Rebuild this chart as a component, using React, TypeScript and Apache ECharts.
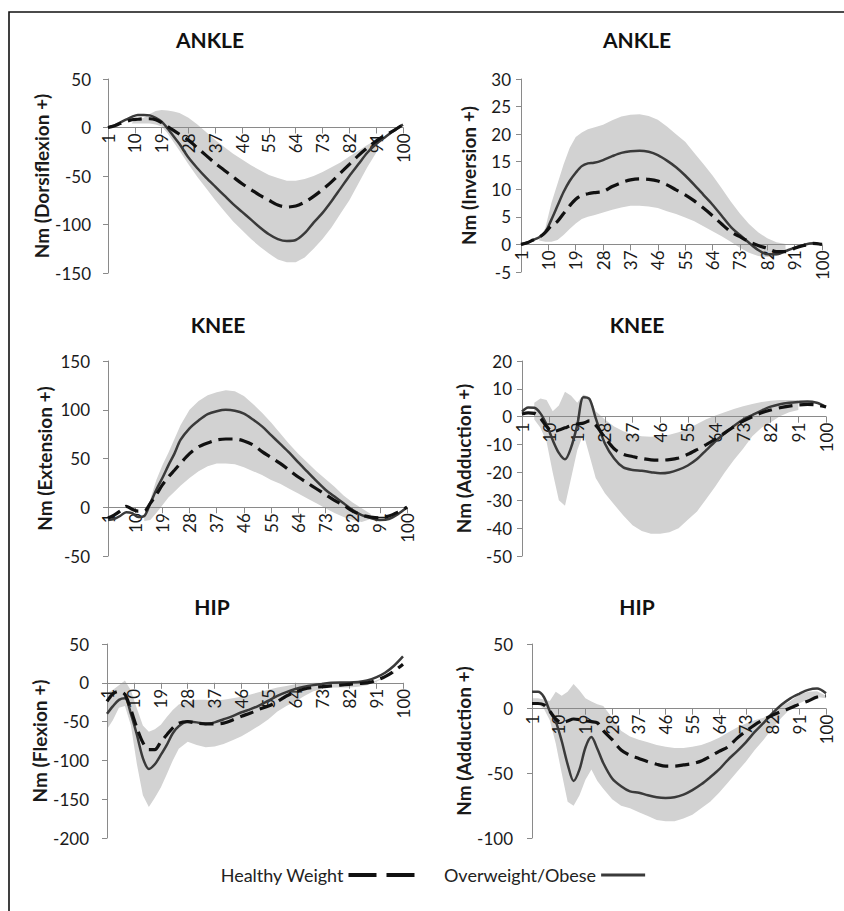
import React, { useEffect, useRef } from "react";
import * as echarts from "echarts";

// Gait cycle (%) sample points
const XS = [1, 3, 5, 7, 9, 11, 13, 15, 17, 19, 21, 23, 25, 28, 31, 34, 37, 40, 43, 46, 49, 52, 55, 58, 61, 64, 67, 70, 73, 76, 79, 82, 85, 88, 91, 94, 97, 100];
const CATEGORIES = Array.from({ length: 100 }, (_, i) => String(i + 1));
const TITLES = ["ANKLE", "ANKLE", "KNEE", "KNEE", "HIP", "HIP"];
const Y_NAMES = ["Nm (Dorsiflexion +)", "Nm (Inversion +)", "Nm (Extension +)", "Nm (Adduction +)", "Nm (Flexion +)", "Nm (Adduction +)"];
const Y_MIN = [-150, -5, -50, -50, -200, -100];
const Y_MAX = [50, 30, 150, 20, 50, 50];
const Y_STEP = [50, 5, 50, 10, 50, 50];
const LEGEND_NAMES = ["Healthy Weight", "Overweight/Obese"];

// Ankle dorsiflexion
const ANKLE_DF_HW = [0, 1.5, 4, 6, 8, 8.5, 9, 9, 8, 5, 1, -3, -7, -13, -21, -29, -37, -44, -51, -58, -64, -70, -75, -80, -82, -81, -77, -71, -64, -56, -47, -38, -29, -21, -14, -8, -3, 3];
const ANKLE_DF_OW = [0, 2, 5, 8, 11, 13, 13, 12.5, 10, 6, -1, -9, -17, -31, -42, -52, -61, -70, -79, -87, -95, -103, -110, -115, -117, -116, -109, -98, -88, -76, -63, -50, -38, -26, -17, -10, -3, 3];
const ANKLE_DF_HI = [null, null, null, null, 5, 8, 10, 14, 17, 18, 17.5, 16.5, 15, 10, 3, -5, -13, -20, -27, -33, -39, -44, -49, -52, -55, -55, -53, -50, -46, -41, -36, -30, -24, -18, -13, null, null, null];
const ANKLE_DF_LO = [null, null, null, null, 4, 4, 4, 4, 3, 1, -6, -15, -24, -38, -51, -63, -75, -86, -97, -106, -115, -123, -130, -136, -139, -139, -134, -125, -115, -103, -89, -75, -58, -41, -26, null, null, null];

// Ankle inversion
const ANKLE_INV_HW = [0, 0.3, 0.8, 1.3, 2.2, 3.4, 4.2, 5.6, 7, 8.2, 8.9, 9.2, 9.4, 9.6, 10.5, 11.2, 11.7, 11.9, 11.8, 11.5, 10.8, 9.9, 9, 7.9, 6.6, 5.2, 3.7, 2.3, 1.4, 0.5, -0.2, -0.7, -1.3, -1.3, -0.7, -0.2, 0.2, 0];
const ANKLE_INV_OW = [0, 0.3, 0.8, 1.3, 2.2, 4.5, 7, 9.5, 11.5, 13, 14.2, 14.7, 14.8, 15.3, 16, 16.6, 16.9, 17, 16.8, 16.2, 15.2, 14, 12.5, 10.8, 9, 7.2, 5.2, 3.2, 1.7, 0.3, -1, -1.8, -1.8, -1.2, -0.6, -0.1, 0.2, 0];
const ANKLE_INV_HI = [null, null, null, 1, 3, 7.5, 11, 14.5, 17.5, 19.5, 20.3, 20.9, 21.2, 21.7, 22.5, 23.2, 23.5, 23.6, 23.3, 22.6, 21.4, 20, 18.6, 16.6, 14.6, 12.5, 10.2, 7.8, 5.6, 3.7, 2.2, 1.1, 0.4, 0.1, null, null, null, null];
const ANKLE_INV_LO = [null, null, null, 0.7, 0.5, 0.5, 0.8, 1.7, 2.8, 3.8, 4.6, 5, 5.3, 5.8, 6.3, 6.7, 7, 7, 6.9, 6.6, 6, 5.5, 4.9, 4.2, 3.3, 2.4, 1.5, 0.5, -0.6, -1.5, -2.1, -2.3, -2.1, -1.3, null, null, null, null];

// Knee extension
const KNEE_EXT_HW = [-11, -8, -4, 1, -2, -4, -4, 4, 13, 23, 31, 38, 45, 55, 62, 66, 69, 70, 70, 68, 64, 57, 51, 45, 38, 31, 25, 19, 13, 7, 2, -4, -8, -10, -11, -9, -5, 0];
const KNEE_EXT_OW = [-13, -12, -9, -5, -6, -10, -9, 4, 18, 30, 43, 55, 69, 81, 89, 95.5, 98.5, 100, 99, 96, 90, 83, 74, 65, 56, 46, 36.5, 27, 18, 11, 4, -3, -8, -11, -13, -12, -7, 0];
const KNEE_EXT_HI = [null, null, null, null, null, null, -8, 8, 28, 43, 56, 70, 84, 100, 109, 115, 118, 120, 119, 114, 106, 97, 87, 76, 65, 55, 46, 37, 29, 21, 12, 5, -1, -7, null, null, null, null];
const KNEE_EXT_LO = [null, null, null, null, null, null, -14, -13, -6, 2, 10, 16, 22, 30, 37, 42, 45, 45, 44, 41, 37, 33, 28, 24, 19, 14, 9, 4, -1, -6, -10, -13, -15, -12, null, null, null, null];

// Knee adduction
const KNEE_ADD_HW = [1, 1.4, 1.2, -0.5, -3.5, -5.3, -4.8, -4, -3.2, -2.6, -2.3, -1.5, -3, -7.5, -11.5, -13.5, -14.3, -15, -15.5, -15.6, -15.4, -14.8, -13.5, -11.8, -10, -8, -5.8, -3.6, -1.6, 0, 1.4, 2.4, 3.2, 3.8, 4.2, 4.4, 4.2, 3.5];
const KNEE_ADD_OW = [1.8, 3.3, 3.2, 1.2, -2.8, -8.4, -13, -15.3, -11, -3, 7, 6.3, -0.5, -9.6, -15, -18.2, -19.1, -19.4, -19.9, -20.3, -20, -19, -17.5, -15.2, -12, -8.8, -6, -3.3, -1, 0.6, 2.2, 3.6, 4.5, 5, 5.3, 5.5, 5, 3.5];
const KNEE_ADD_HI = [null, null, 5, 6.5, 6, 2, 4, 9, 7.5, 5, 8, 7, 2, -1, -3.5, -5.2, -6.4, -7, -7.2, -7, -6.5, -5.6, -4.3, -2.6, -0.9, 0.4, 1.6, 2.8, 3.8, 4.6, 5.3, 5.7, 6, 6, 6, null, null, null];
const KNEE_ADD_LO = [null, null, -1, -4, -9, -20, -30, -32, -22, -12, -6, -14, -22, -27.5, -31.5, -35.5, -39, -41, -42, -42, -41.5, -40, -37, -34, -29.5, -25, -20, -15.5, -11.5, -7, -4, -2, 0.2, 1.6, 2.4, null, null, null];

// Hip flexion
const HIP_FLEX_HW = [-24, -14, -11, -15, -35, -58, -77, -86, -86, -76, -67, -58, -52, -50, -52, -53, -53, -52, -48, -43, -39, -34, -30, -24, -17, -12, -8, -6, -5, -4, -3, -2, -1, 0, 3, 8, 15, 24];
const HIP_FLEX_OW = [-40, -30, -22, -20, -40, -67, -97, -111, -105, -93, -80, -65, -56, -50, -51, -53, -51, -47, -43, -38, -34, -29, -23, -17, -12, -8, -5, -3, -1.5, 0, 0.4, 0.4, 1, 3, 7, 13, 22, 34];
const HIP_FLEX_HI = [-13, -9, -3, 3, -10, -33, -55, -63, -60, -54, -44, -35, -28, -24, -22, -22, -23, -22, -20, -18, -15, -12, -9, -6, -4, -2, -1, 0, 0, 0.5, 0.5, 0, 0, 1, 3, 8, 15, null];
const HIP_FLEX_LO = [-60, -48, -32, -30, -55, -105, -145, -160, -148, -135, -118, -100, -85, -76, -80, -83, -82, -79, -74, -69, -62, -55, -47, -37, -30, -24, -17, -11, -8, -6, -6, -6, -5, -3, 1, 7, 12, null];

// Hip adduction
const HIP_ADD_HW = [4, 4, 3, -2, -8, -11, -9.5, -8, -8.5, -9.5, -10, -11, -17, -24, -32, -36, -38.5, -41, -43, -44.5, -44.5, -43.5, -42.5, -40.5, -37, -33, -29.5, -23, -17.5, -12.5, -8.5, -5, -2, 0.5, 3.5, 6, 9, 10];
const HIP_ADD_OW = [13, 13, 9, -2, -10, -25, -43, -56, -47, -30, -22, -31, -42, -54, -60, -64, -65, -67, -68.5, -69, -68.5, -66.5, -63, -58.5, -53, -47, -39.5, -33, -26, -18, -11, -3.5, 3, 8, 11.5, 14.5, 15.5, 12];
const HIP_ADD_HI = [8, 8, 7, 6, 13, 10, 13, 19, 14, 8, 5.5, 3.5, 2, -7, -17, -21.5, -24, -26, -28, -29.5, -30.5, -30.5, -29.5, -28, -25.5, -22.5, -18.5, -14.5, -11.5, -9, -7, -3, 2, 6, 11, 13, 13.5, 10];
const HIP_ADD_LO = [5, 4, 0, -9, -27, -50, -72, -75, -67, -55, -47, -56, -62, -70, -75, -77, -80, -83, -86, -87, -87, -85, -82, -77, -72, -65, -57, -49, -41, -32, -24, -15, -7, 0, 4, 7.5, 9, 8];

const HW_SERIES = [ANKLE_DF_HW, ANKLE_INV_HW, KNEE_EXT_HW, KNEE_ADD_HW, HIP_FLEX_HW, HIP_ADD_HW];
const OW_SERIES = [ANKLE_DF_OW, ANKLE_INV_OW, KNEE_EXT_OW, KNEE_ADD_OW, HIP_FLEX_OW, HIP_ADD_OW];
const BAND_HI = [ANKLE_DF_HI, ANKLE_INV_HI, KNEE_EXT_HI, KNEE_ADD_HI, HIP_FLEX_HI, HIP_ADD_HI];
const BAND_LO = [ANKLE_DF_LO, ANKLE_INV_LO, KNEE_EXT_LO, KNEE_ADD_LO, HIP_FLEX_LO, HIP_ADD_LO];

// layout (pixels)
const GRIDS = [
  { left: 108, top: 79, width: 295, height: 194, titleX: 210, titleY: 29, nameGap: 57, labelMargin: 17 },
  { left: 521, top: 79, width: 301, height: 193, titleX: 637, titleY: 29, nameGap: 43, labelMargin: 10 },
  { left: 108, top: 361, width: 299, height: 195, titleX: 218, titleY: 314, nameGap: 54, labelMargin: 18 },
  { left: 522, top: 361, width: 304, height: 195, titleX: 637, titleY: 314, nameGap: 49, labelMargin: 10 },
  { left: 107, top: 644, width: 296, height: 194, titleX: 212, titleY: 596, nameGap: 58, labelMargin: 18 },
  { left: 532, top: 644, width: 294, height: 194, titleX: 637, titleY: 596, nameGap: 59, labelMargin: 19 },
];

const FONT = "Lato";
const AXIS_COLOR = "#8a8a8a";
const TEXT_COLOR = "#1a1a1a";
const DASH_ICON = "path://M0,0H28V4H0ZM38,0H66V4H38Z";
const SOLID_ICON = "path://M0,0H44V3H0Z";

function pairs(values: (number | null)[]) {
  return XS.map((x, i) => [x - 1, values[i]]);
}

export default function App() {
  const ref = useRef<HTMLDivElement>(null);

  useEffect(() => {
    if (!ref.current) return;
    const chart = echarts.init(ref.current, null, { renderer: "svg" });

    const series: any[] = [];
    GRIDS.forEach((g, p) => {
      const hi = BAND_HI[p];
      const lo = BAND_LO[p];
      series.push({
        type: "custom",
        name: "band" + p,
        xAxisIndex: p,
        yAxisIndex: p,
        z: 0,
        silent: true,
        data: [[0, 0]],
        renderItem: (params: any, api: any) => {
          const top: number[][] = [];
          const bot: number[][] = [];
          XS.forEach((x, i) => {
            if (hi[i] != null && lo[i] != null) {
              top.push(api.coord([x - 1, hi[i]]));
              bot.push(api.coord([x - 1, lo[i]]));
            }
          });
          return {
            type: "polygon",
            shape: { points: top.concat(bot.reverse()) },
            style: { fill: "#d2d2d2", stroke: "none" },
          };
        },
      });
      series.push({
        type: "line",
        name: LEGEND_NAMES[1],
        xAxisIndex: p,
        yAxisIndex: p,
        data: pairs(OW_SERIES[p]),
        showSymbol: false,
        symbol: "none",
        smooth: 0.3,
        z: 3,
        lineStyle: { color: "#3a3a3a", width: 2.5, type: "solid" },
        itemStyle: { color: "#3a3a3a" },
      });
      series.push({
        type: "line",
        name: LEGEND_NAMES[0],
        xAxisIndex: p,
        yAxisIndex: p,
        data: pairs(HW_SERIES[p]),
        showSymbol: false,
        symbol: "none",
        smooth: 0.3,
        z: 4,
        lineStyle: { color: "#111111", width: 3.2, type: [14, 7] },
        itemStyle: { color: "#111111" },
      });
    });

    const option: any = {
      animation: false,
      textStyle: { fontFamily: FONT },
      title: GRIDS.map((g, p) => ({
        text: TITLES[p],
        left: g.titleX,
        top: g.titleY,
        textAlign: "center",
        padding: 0,
        textStyle: { fontFamily: FONT, fontSize: 21, fontWeight: "bold", color: "#111" },
      })),
      legend: [
        {
          data: [{ name: LEGEND_NAMES[0], icon: DASH_ICON }],
          left: 220,
          top: 866,
          align: "right",
          itemWidth: 66,
          itemHeight: 4,
          padding: 0,
          selectedMode: false,
          textStyle: { fontFamily: FONT, fontSize: 18, color: "#222" },
        },
        {
          data: [{ name: LEGEND_NAMES[1], icon: SOLID_ICON }],
          left: 444,
          top: 866,
          align: "right",
          itemWidth: 44,
          itemHeight: 3,
          padding: 0,
          selectedMode: false,
          textStyle: { fontFamily: FONT, fontSize: 18, color: "#222" },
        },
      ],
      grid: GRIDS.map((g) => ({ left: g.left, top: g.top, width: g.width, height: g.height, containLabel: false })),
      xAxis: GRIDS.map((g, p) => ({
        type: "category",
        gridIndex: p,
        data: CATEGORIES,
        boundaryGap: false,
        position: "bottom",
        // the axis crosses the value axis at 0
        offset: -(g.height * (0 - Y_MIN[p])) / (Y_MAX[p] - Y_MIN[p]),
        z: 2,
        axisLine: { onZero: false, lineStyle: { color: AXIS_COLOR, width: 1 } },
        axisTick: { show: true, interval: 8, length: 6, lineStyle: { color: AXIS_COLOR } },
        axisLabel: { interval: 8, rotate: 90, margin: 6, fontSize: 17, fontFamily: FONT, color: TEXT_COLOR },
        splitLine: { show: false },
      })),
      yAxis: GRIDS.map((g, p) => ({
        type: "value",
        gridIndex: p,
        min: Y_MIN[p],
        max: Y_MAX[p],
        interval: Y_STEP[p],
        name: Y_NAMES[p],
        nameLocation: "middle",
        nameGap: g.nameGap,
        z: 2,
        nameTextStyle: { fontFamily: FONT, fontSize: 19, fontWeight: "bold", color: TEXT_COLOR },
        axisLine: { show: true, onZero: false, lineStyle: { color: AXIS_COLOR, width: 1 } },
        axisTick: { show: true, length: 5, lineStyle: { color: AXIS_COLOR } },
        axisLabel: { margin: g.labelMargin, fontSize: 17, fontFamily: FONT, color: TEXT_COLOR },
        splitLine: { show: false },
      })),
      series,
      graphic: [
        {
          type: "rect",
          silent: true,
          z: -10,
          shape: { x: 9, y: 12, width: 900, height: 1000 },
          style: { fill: "none", stroke: "#111", lineWidth: 1.6 },
        },
      ],
    };

    chart.setOption(option);
    return () => chart.dispose();
  }, []);

  return (
    <div
      ref={ref}
      style={{ position: "absolute", left: 0, top: 0, width: 844, height: 911, background: "#fff" }}
    />
  );
}
